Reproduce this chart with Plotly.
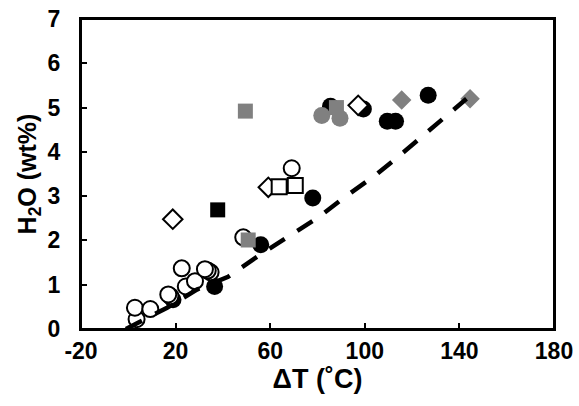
import plotly.graph_objects as go

# ---- data ----
black_circle_x = [18.9, 36.5, 56.0, 78.0, 85.5, 99.4, 109.5, 113.0, 126.8]
black_circle_y = [0.66, 0.96, 1.90, 2.96, 5.03, 4.97, 4.69, 4.69, 5.28]

open_circle_x = [3.5, 2.8, 9.3, 17.8, 16.9, 24.3, 28.2, 22.6, 34.8, 33.6, 32.4, 48.6, 69.1]
open_circle_y = [0.22, 0.48, 0.45, 0.74, 0.78, 0.96, 1.08, 1.37, 1.28, 1.32, 1.35, 2.07, 3.63]

gray_circle_x = [81.8, 89.5]
gray_circle_y = [4.82, 4.76]

gray_square_x = [49.5, 50.7, 88.0]
gray_square_y = [4.92, 2.01, 5.00]

black_square_x = [37.8]
black_square_y = [2.69]

open_diamond_x = [18.8, 59.2, 97.2]
open_diamond_y = [2.48, 3.20, 5.05]

open_square_x = [63.8, 70.6]
open_square_y = [3.21, 3.24]

gray_diamond_x = [115.6, 144.5]
gray_diamond_y = [5.17, 5.20]

curve_x = [-1.0, 16.4, 29.0, 42.2, 54.4, 68.4, 80.6, 92.1, 104.7, 116.6, 128.0, 143.0]
curve_y = [0, 0.48, 0.89, 1.18, 1.63, 2.10, 2.53, 3.00, 3.48, 4.00, 4.51, 5.20]

x_ticks = [-20, 20, 60, 100, 140, 180]
y_ticks = [0, 1, 2, 3, 4, 5, 6, 7]

GRAY = "#808080"
FONT = "Liberation Sans, Arial, sans-serif"

fig = go.Figure()

def add(x, y, symbol, fill, line_color, line_width, size):
    fig.add_trace(go.Scatter(
        x=x, y=y, mode="markers",
        marker=dict(symbol=symbol, size=size, color=fill,
                    line=dict(color=line_color, width=line_width)),
        showlegend=False, hoverinfo="skip", cliponaxis=False))

add(black_circle_x, black_circle_y, "circle", "black", "black", 0, 17)
add(open_circle_x, open_circle_y, "circle", "white", "black", 2, 16)
add(gray_circle_x, gray_circle_y, "circle", GRAY, GRAY, 0, 17)
add(gray_square_x, gray_square_y, "square", GRAY, GRAY, 0, 15)
add(black_square_x, black_square_y, "square", "black", "black", 0, 15)
add(open_diamond_x, open_diamond_y, "diamond", "white", "black", 2, 15)
add(open_square_x, open_square_y, "square", "white", "black", 2, 15)
add(gray_diamond_x, gray_diamond_y, "diamond", GRAY, GRAY, 0, 15)

fig.add_trace(go.Scatter(
    x=curve_x, y=curve_y, mode="lines",
    line=dict(color="black", width=4.5, dash="18px,15px"),
    showlegend=False, hoverinfo="skip"))

# plot area at x 81..554, y 18.5..329.5 (page body margin removed below)
fig.update_layout(
    width=579, height=406,
    margin=dict(l=81, r=25, t=18.5, b=76.5),
    paper_bgcolor="white", plot_bgcolor="white",
    font=dict(family=FONT, color="black"),
    shapes=[dict(type="rect", xref="paper", yref="paper", x0=0, x1=1, y0=0, y1=1,
                 line=dict(color="black", width=2), fillcolor="rgba(0,0,0,0)",
                 layer="above")],
)
fig.update_xaxes(
    range=[-20, 180], tickvals=x_ticks, ticktext=[str(v) for v in x_ticks],
    automargin=False, ticklabeloverflow="allow",
    showgrid=False, zeroline=False,
    showline=True, linecolor="black", linewidth=2, mirror=True,
    ticks="inside", ticklen=6, tickwidth=2, tickcolor="black",
    tickfont=dict(family=FONT, size=23, color="black", weight="bold"),
    title=dict(text="\u00a0\u00a0ΔT (˚C)", font=dict(family=FONT, size=27, color="black", weight="bold"),
               standoff=4),
)
fig.update_yaxes(
    range=[0, 7], tickvals=y_ticks, ticktext=[str(v) for v in y_ticks],
    automargin=False, ticklabeloverflow="allow",
    showgrid=False, zeroline=False,
    showline=True, linecolor="black", linewidth=2, mirror=True,
    ticks="inside", ticklen=6, tickwidth=2, tickcolor="black",
    ticklabelstandoff=14,
    tickfont=dict(family=FONT, size=23, color="black", weight="bold"),
    title=dict(text="H<sub>2</sub>O (wt%)", font=dict(family=FONT, size=25, color="black", weight="bold"),
               standoff=4),
)

fig.write_html("out.html", config={"displayModeBar": False},
               post_script="document.body.style.margin='0';")
